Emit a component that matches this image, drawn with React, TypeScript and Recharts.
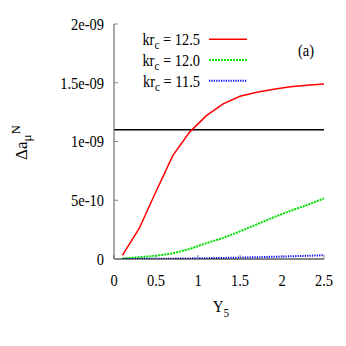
import React from 'react';
import { LineChart, Line, XAxis, YAxis, ReferenceLine, Legend } from 'recharts';

// Y5 values
const xValues = [0.1, 0.3, 0.5, 0.7, 0.9, 1.1, 1.3, 1.5, 1.7, 1.9, 2.1, 2.3, 2.5];
// Δa_μ^N in units of 1e-9
const red125 = [0.03, 0.26, 0.575, 0.88, 1.08, 1.22, 1.32, 1.385, 1.42, 1.445, 1.465, 1.478, 1.49];
const green120 = [0.005, 0.015, 0.028, 0.048, 0.085, 0.135, 0.18, 0.235, 0.295, 0.355, 0.41, 0.46, 0.515];
const blue115 = [0.0005, 0.001, 0.002, 0.003, 0.005, 0.007, 0.009, 0.012, 0.015, 0.019, 0.023, 0.027, 0.032];
const reference = 1.1;

const xTicks = [0, 0.5, 1, 1.5, 2, 2.5];
const xTickLabels = ['0', '0.5', '1', '1.5', '2', '2.5'];
const yTicks = [0, 0.5, 1, 1.5, 2];
const yTickLabels = ['0', '5e-10', '1e-09', '1.5e-09', '2e-09'];
const seriesK = ['12.5', '12.0', '11.5'];
const seriesColors = ['#ff0000', '#00e000', '#0000ff'];
const seriesDash = [undefined, '2 1', '1.2 1.2'];
const seriesKeys = ['r', 'g', 'b'];

const data = xValues.map((x, i) => ({ x, r: red125[i], g: green120[i], b: blue115[i] }));

const FONT = '"Liberation Serif", "Times New Roman", serif';
const SX = 0.85;
const sq = (x: number, y: number) => `translate(${x} ${y}) scale(${SX} 1) translate(${-x} ${-y})`;

const XTick = (props: any) => {
  const { x, y, payload } = props;
  const idx = xTicks.indexOf(payload.value);
  return (
    <text x={x} y={y} dy="0.71em" textAnchor="middle" fontFamily={FONT} fontSize={17} fill="#000" transform={sq(x, y)}>
      {idx >= 0 ? xTickLabels[idx] : payload.value}
    </text>
  );
};

const YTick = (props: any) => {
  const { x, y, payload } = props;
  const idx = yTicks.indexOf(payload.value);
  return (
    <text x={x} y={y} dy="0.35em" textAnchor="end" fontFamily={FONT} fontSize={17} fill="#000" transform={sq(x, y)}>
      {idx >= 0 ? yTickLabels[idx] : payload.value}
    </text>
  );
};

const XLabel = (props: any) => {
  const vb = props.viewBox || {};
  const cx = vb.x + vb.width / 2 + 2;
  const by = vb.y + 53;
  return (
    <text x={cx} y={by} textAnchor="middle" fontFamily={FONT} fontSize={17} fill="#000" transform={sq(cx, by)}>
      Y<tspan dy={5} fontSize={13}>5</tspan>
    </text>
  );
};

const YLabel = (props: any) => {
  const vb = props.viewBox || {};
  const bx = 27;
  const cy = vb.y + vb.height / 2 + 1;
  return (
    <text x={bx} y={cy} textAnchor="middle" fontFamily={FONT} fontSize={17} fill="#000" transform={`rotate(-90 ${bx} ${cy})`}>
      Δa<tspan dy={4} fontSize={13}>μ</tspan>
      <tspan dy={-11} fontSize={13}>N</tspan>
    </text>
  );
};

const LegendContent = () => (
  <svg width={346} height={100} style={{ display: 'block' }}>
    {seriesK.map((k, i) => {
      const ly = 39.3 + 20.7 * i;
      const ty = ly + 6;
      return (
        <g key={k}>
          <text x={200} y={ty} textAnchor="end" fontFamily={FONT} fontSize={17} fill="#000" transform={sq(200, ty)}>
            kr<tspan dy={4} fontSize={13}>c</tspan>
            <tspan dy={-4}> = {k}</tspan>
          </text>
          <line x1={209} x2={247} y1={ly} y2={ly} stroke={seriesColors[i]} strokeWidth={i === 0 ? 1.5 : 2} strokeDasharray={seriesDash[i]} />
        </g>
      );
    })}
    <text x={306} y={56} textAnchor="middle" fontFamily={FONT} fontSize={17} fill="#000" transform={sq(306, 56)}>
      (a)
    </text>
  </svg>
);

export default function App() {
  return (
    <div style={{ position: 'absolute', left: 0, top: 0, width: 346, height: 346, background: '#fff' }}>
      <LineChart width={346} height={346} data={data} margin={{ top: 24, right: 22, left: 0, bottom: 0 }}>
        <XAxis
          dataKey="x"
          type="number"
          domain={[0, 2.5]}
          ticks={xTicks}
          height={87}
          tickSize={-4}
          tickMargin={19}
          tick={<XTick />}
          axisLine={{ stroke: '#111', strokeWidth: 1 }}
          tickLine={{ stroke: '#888' }}
          label={<XLabel />}
          allowDataOverflow
        />
        <XAxis
          xAxisId="top"
          orientation="top"
          type="number"
          domain={[0, 2.5]}
          ticks={xTicks}
          height={0}
          tickSize={-4}
          tick={false}
          axisLine={{ stroke: '#333', strokeWidth: 1 }}
          tickLine={{ stroke: '#888' }}
          allowDataOverflow
        />
        <YAxis
          type="number"
          domain={[0, 2]}
          ticks={yTicks}
          width={114}
          tickSize={-4}
          tickMargin={14}
          tick={<YTick />}
          axisLine={{ stroke: '#555', strokeWidth: 1 }}
          tickLine={{ stroke: '#888' }}
          label={<YLabel />}
          allowDataOverflow
        />
        <YAxis
          yAxisId="right"
          orientation="right"
          type="number"
          domain={[0, 2]}
          ticks={yTicks}
          width={0}
          tickSize={-4}
          tick={false}
          axisLine={{ stroke: '#333', strokeWidth: 1 }}
          tickLine={{ stroke: '#888' }}
          allowDataOverflow
        />
        <ReferenceLine y={reference} stroke="#000" strokeWidth={1.5} />
        {seriesKeys.map((key, i) => (
          <Line
            key={key}
            dataKey={key}
            type="linear"
            stroke={seriesColors[i]}
            strokeWidth={i === 0 ? 1.5 : 2}
            strokeDasharray={seriesDash[i]}
            dot={false}
            activeDot={false}
            isAnimationActive={false}
          />
        ))}
        <Legend
          layout="vertical"
          align="center"
          verticalAlign="middle"
          content={<LegendContent />}
          wrapperStyle={{ position: 'absolute', left: 0, top: 0, width: 346, height: 100 }}
        />
      </LineChart>
    </div>
  );
}
